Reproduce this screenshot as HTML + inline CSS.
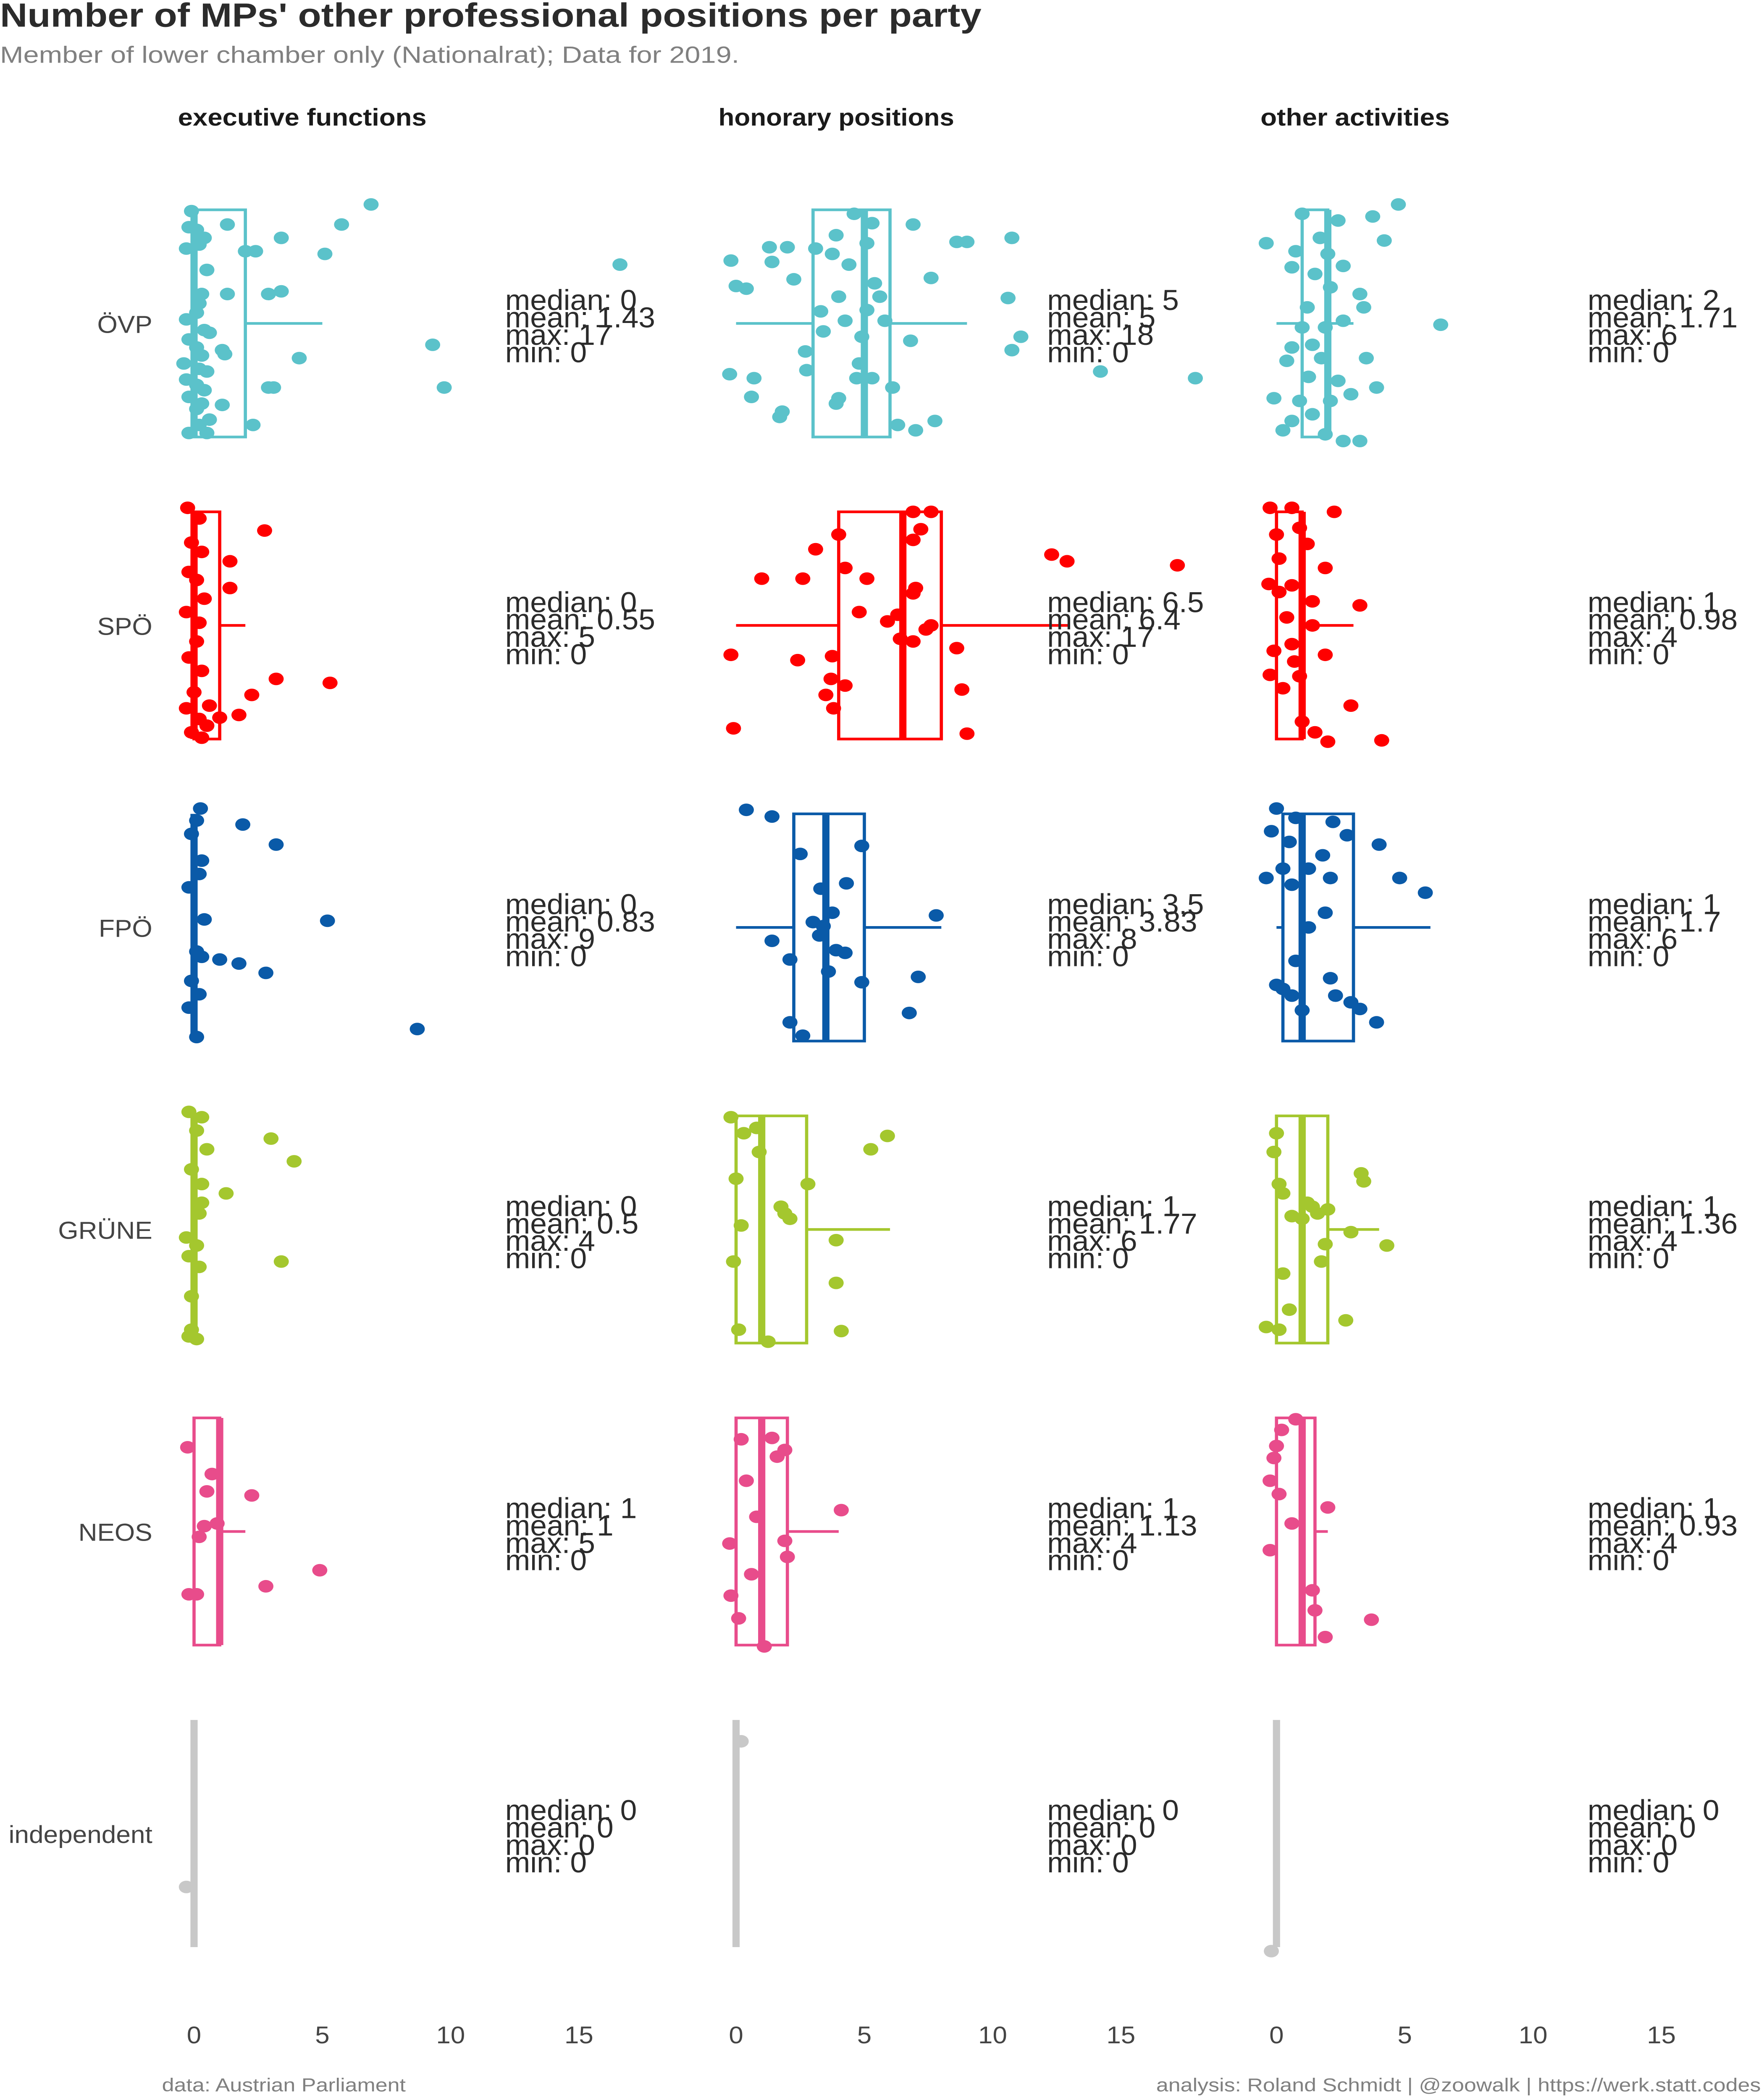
<!DOCTYPE html>
<html><head><meta charset="utf-8">
<style>
html,body{margin:0;padding:0;background:#fff;overflow:hidden;width:100%;height:100%;}
svg{display:block;position:fixed;left:0;top:0;width:100%;height:100%;}
text{font-family:"Liberation Sans Narrow","Liberation Sans",sans-serif;}
</style></head>
<body>
<svg id="chart" viewBox="0 0 1100 1571.4" preserveAspectRatio="none" xmlns="http://www.w3.org/2000/svg">
<rect x="0" y="0" width="1100" height="1571.4" fill="#fff"/>
<text x="0" y="20" font-size="25" font-weight="bold" fill="#2b2b2b" textLength="612" lengthAdjust="spacingAndGlyphs">Number of MPs' other professional positions per party</text>
<text x="0" y="47" font-size="17.5" fill="#808080" textLength="461" lengthAdjust="spacingAndGlyphs">Member of lower chamber only (Nationalrat); Data for 2019.</text>
<text x="111" y="94" font-size="18" font-weight="bold" fill="#1a1a1a" textLength="155" lengthAdjust="spacingAndGlyphs">executive functions</text>
<text x="448" y="94" font-size="18" font-weight="bold" fill="#1a1a1a" textLength="147" lengthAdjust="spacingAndGlyphs">honorary positions</text>
<text x="786" y="94" font-size="18" font-weight="bold" fill="#1a1a1a" textLength="118" lengthAdjust="spacingAndGlyphs">other activities</text>
<g id="plot"></g>
<text x="101" y="1565" font-size="14" fill="#808080" textLength="152" lengthAdjust="spacingAndGlyphs">data: Austrian Parliament</text>
<text x="1098" y="1565" font-size="14" fill="#808080" text-anchor="end" textLength="377" lengthAdjust="spacingAndGlyphs">analysis: Roland Schmidt | @zoowalk | https://werk.statt.codes</text>
</svg>
<script>
const parties = ["ÖVP","SPÖ","FPÖ","GRÜNE","NEOS","independent"];
const partyColors = ["#5bc2ca","#ff0000","#0a5aa8","#a4c72e","#e84c8b","#c8c8c8"];
const facets = ["executive functions","honorary positions","other activities"];
const xTicks = [0,5,10,15];
const boxExec = [[0,0,2,0,5],[0,0,1,0,2],[0,0,0,0,0],[0,0,0,0,0],[0,1,1,0,2],[0,0,0,0,0]];
const boxHon = [[3,5,6,0,9],[4,6.5,8,0,13],[2.25,3.5,5,0,8],[0,1,2.75,0,6],[0,1,2,0,4],[0,0,0,0,0]];
const boxOther = [[1,2,2,0,3],[0,1,1,0,3],[0.25,1,3,0,6],[0,1,2,0,4],[0,1,1.5,0,2],[0,0,0,0,0]];
const statsExec = [["0","1.43","17","0"],["0","0.55","5","0"],["0","0.83","9","0"],["0","0.5","4","0"],["1","1","5","0"],["0","0","0","0"]];
const statsHon = [["5","5","18","0"],["6.5","6.4","17","0"],["3.5","3.83","8","0"],["1","1.77","6","0"],["1","1.13","4","0"],["0","0","0","0"]];
const statsOther = [["2","1.71","6","0"],["1","0.98","4","0"],["1","1.7","6","0"],["1","1.36","4","0"],["1","0.93","4","0"],["0","0","0","0"]];
const ovpExec = [[6.9,-89],[5.75,-74],[5.1,-52],[3.4,-64],[2,-54],[2.4,-54],[3.4,-24],[2.9,-22],[4.1,26],[3.1,48],[2.9,48],[2.3,76],[9.3,16],[9.75,48],[16.6,-44],[1.3,-74],[1.3,-22],[1.1,20],[1.2,23],[1.1,61],
[-0.1,-84],[-0.2,-72],[0.1,-70],[0.4,-64],[0.2,-59],[-0.3,-56],[0.5,-40],[0.3,-22],[0.2,-15],[0.1,-8],[-0.3,-3],[0.4,5],[0.6,7],[-0.2,12],[0.1,18],[0.3,24],[-0.4,30],[0.2,34],[0.5,36],[-0.3,42],[0.1,46],[0.4,50],[-0.2,55],[0.3,60],[0.1,64],[0.6,72],[0.2,76],[-0.2,82],[0.5,82]];
const spoExec = [[-0.25,-88],[2.75,-71],[1.4,-48],[1.4,-28],[3.2,40],[5.3,43],[2.25,52],[1.75,67],[1,69],
[0.2,-80],[-0.1,-62],[0.3,-55],[-0.2,-40],[0.1,-34],[0.4,-20],[-0.3,-10],[0.2,-2],[0.1,12],[-0.2,24],[0.3,34],[0,50],[-0.3,62],[0.2,70],[0.5,75],[-0.1,80],[0.3,84],[0.6,60]];
const fpoExec = [[0.25,-89],[1.9,-77],[3.2,-62],[5.2,-5],[1.75,27],[2.8,34],[1,24],[8.7,76],
[0.1,-80],[-0.1,-70],[0.3,-50],[0.2,-40],[-0.2,-30],[0.4,-6],[0.1,18],[0.3,22],[-0.1,40],[0.2,50],[-0.2,60],[0.1,82]];
const grueneExec = [[3,-68],[3.9,-51],[1.25,-27],[3.4,24],
[-0.2,-88],[0.3,-84],[0.1,-74],[0.5,-60],[-0.1,-45],[0.3,-34],[0.2,-12],[-0.3,6],[0.1,12],[-0.2,20],[0.2,28],[0.3,-20],[-0.1,50],[-0.1,75],[0.1,82],[-0.2,80]];
const neosExec = [[-0.25,-63],[0.7,-43],[2.25,-27],[0.4,-4],[0.2,4],[2.8,41],[4.9,29],[0.1,47],[-0.2,47],[0.9,-6],[0.5,-30]];
const indepExec = [[-0.3,40]];
const ovpHon = [[8.6,-61],[9,-61],[10.75,-64],[10.6,-19],[11.1,10],[10.75,20],[14.2,36],[17.9,41],[6.9,-74],[7.6,-34],[-0.2,-47],[0,-28],[0.4,-26],[1.4,-46],[2.25,-33],[1.3,-57],[2,-57],[3.1,-56],[3.75,-52],[4,-20],[3.3,-9],[3.4,6],[2.7,21],[2.75,35],[1.8,66],[1.7,70],[0.7,41],[0.6,55],[-0.25,38],[3.9,60],[4,56],[5.1,-60],[5.4,-30],[5.6,-20],[5.1,-10],[5.8,-2],[4.9,10],[4.7,41],[5.3,41],[6.1,48],[6.3,76],[7,80],[7.75,73],[6.8,13],[4.4,-44],[4.6,-82],[3.9,-66],[5.3,-75],[4.25,-2],[4.8,30]];
const spoHon = [[-0.2,22],[-0.1,77],[1,-35],[2.6,-35],[3.1,-57],[4.25,-43],[3.75,23],[2.4,26],[3.7,40],[3.5,52],[3.8,62],[4,-68],[4.8,-10],[5.1,-35],[5.9,-3],[6.3,-8],[6.9,-24],[7,-28],[6.9,-85],[7.6,-85],[7.2,-72],[7.6,0],[6.9,12],[6.4,10],[7.4,3],[8.6,17],[8.8,48],[9,81],[12.3,-53],[12.9,-48],[17.2,-45],[4.25,45],[6.9,-64]];
const fpoHon = [[0.4,-88],[1.4,-83],[2.5,-55],[4.9,-61],[3.3,-29],[3.75,-11],[4.3,-33],[3.4,-1],[3.9,17],[4.25,19],[3.6,33],[2.1,24],[1.4,10],[2.1,71],[2.6,81],[4.9,41],[7.1,37],[7.8,-9],[6.75,64],[3.25,6],[3,-4]];
const grueneHon = [[-0.2,-84],[0.8,-76],[0.3,-72],[0,-38],[0.9,-58],[2.8,-34],[1.75,-17],[2.1,-8],[0.2,-3],[-0.1,24],[3.9,8],[3.9,40],[4.1,76],[0.1,75],[1.25,84],[5.25,-60],[5.9,-70],[1.9,-12]];
const neosHon = [[0.2,-69],[1.4,-70],[1.9,-61],[1.6,-56],[0.4,-38],[0.8,-11],[-0.25,9],[1.9,7],[2,19],[0.6,32],[-0.2,48],[0.1,65],[1.1,86],[4.1,-16]];
const indepHon = [[0.2,-69]];
const ovpOther = [[4.75,-89],[3.75,-80],[4.2,-62],[6.4,1],[-0.4,-60],[0.75,-54],[0.6,-42],[1.7,-64],[2.4,-77],[2.6,-43],[2.1,-27],[3.25,-22],[3.4,-12],[2.6,-2],[1.9,3],[1,3],[0.6,18],[0.4,28],[1.4,16],[1.75,26],[3.5,26],[2.4,43],[-0.1,56],[0.9,58],[0.6,73],[0.25,80],[1.4,68],[1.9,83],[2.6,88],[3.25,88],[2.9,53],[3.9,48],[1.2,-12],[1.5,-37],[1,-82],[2,-52],[1.25,40],[2.1,58]];
const spoOther = [[-0.25,-88],[0.6,-88],[2.25,-85],[0.9,-73],[0,-68],[1.2,-61],[0.1,-50],[1.9,-43],[-0.3,-31],[0.6,-30],[0.1,-25],[1.4,-18],[3.25,-15],[0.4,-6],[1.4,0],[0.6,14],[1.9,22],[-0.1,19],[0.7,27],[-0.25,37],[0.9,38],[0.25,47],[2.9,60],[1,72],[1.5,80],[2,87],[4.1,86]];
const fpoOther = [[0,-89],[0.75,-82],[-0.2,-72],[0.5,-64],[2.2,-79],[2.75,-69],[4,-62],[1.8,-54],[1.25,-44],[0.25,-44],[-0.4,-37],[0.6,-32],[2.1,-37],[4.8,-37],[5.8,-26],[1.9,-11],[1.25,0],[0.75,25],[0,43],[0.6,51],[2.1,38],[2.3,51],[2.9,56],[3.25,61],[3.9,71],[1,62],[0.25,46]];
const grueneOther = [[0,-72],[-0.1,-58],[0.1,-34],[0.25,-27],[1.2,-20],[1.4,-17],[1.6,-12],[1,-8],[2,-15],[3.3,-42],[3.4,-36],[2.9,2],[4.3,12],[1.9,11],[1.75,24],[0.25,33],[0.5,60],[-0.4,73],[0.1,75],[2.7,68],[0.6,-10]];
const neosOther = [[0.2,-76],[0.75,-84],[0,-64],[-0.1,-55],[-0.25,-38],[0.1,-28],[2,-18],[0.6,-6],[-0.25,14],[1.4,44],[1.5,59],[1.9,79],[3.7,66]];
const indepOther = [[-0.2,88]];

const boxes = [boxExec, boxHon, boxOther];
const stats = [statsExec, statsHon, statsOther];
const points = [[ovpExec,spoExec,fpoExec,grueneExec,neosExec,indepExec],[ovpHon,spoHon,fpoHon,grueneHon,neosHon,indepHon],[ovpOther,spoOther,fpoOther,grueneOther,neosOther,indepOther]];

const NS = "http://www.w3.org/2000/svg";
const plot = document.getElementById("plot");
const colOrigin = [121, 459, 796];
const unit = 16;
const rowCenter0 = 242, rowStep = 226, halfH = 85;
function xScale(c, v){ return colOrigin[c] + v*unit; }
function yScale(r){ return rowCenter0 + r*rowStep; }
function mk(tag, attrs, parent){ const e = document.createElementNS(NS, tag); for (const k in attrs) e.setAttribute(k, attrs[k]); (parent||plot).appendChild(e); return e; }
function squeeze(el, x, s){ el.setAttribute('transform', 'translate(' + x + ',0) scale(' + s + ',1) translate(' + (-x) + ',0)'); }

parties.forEach((p, r) => {
  const lbl = mk("text", {x:95, y:yScale(r)+7, "font-size":18.5, fill:"#444", "text-anchor":"end"});
  
  
  squeeze(lbl, 95, 0.88);
  lbl.textContent = p;
});

for (let c = 0; c < 3; c++) {
  xTicks.forEach(t => {
    const tk = mk("text", {x:xScale(c,t), y:1529, "font-size":18, fill:"#444", "text-anchor":"middle"});
    
    
    squeeze(tk, xScale(c,t), 0.9);
    tk.textContent = t;
  });
  for (let r = 0; r < parties.length; r++) {
    const col = partyColors[r];
    const cy = yScale(r);
    const g = mk("g", {});
    
    
    const b = boxes[c][r];
    const x1 = xScale(c,b[0]), xm = xScale(c,b[1]), x3 = xScale(c,b[2]);
    const wl = mk("line", {x1:xScale(c,b[3]), x2:x1, y1:cy, y2:cy, stroke:col, "stroke-width":2}, g);
    
    
    const wh = mk("line", {x1:x3, x2:xScale(c,b[4]), y1:cy, y2:cy, stroke:col, "stroke-width":2}, g);
    
    
    const bx = mk("rect", {x:x1, y:cy-halfH, width:Math.max(0,x3-x1), height:2*halfH, fill:"none", stroke:col, "stroke-width":2}, g);
    
    
    const md = mk("line", {x1:xm, x2:xm, y1:cy-halfH, y2:cy+halfH, stroke:col, "stroke-width":4.5}, g);
    
    
    points[c][r].forEach(pt => {
      const ci = mk("circle", {cx:xScale(c,pt[0]), cy:cy+pt[1], r:4.7, fill:col}, g);
      
      
    });
    const s = stats[c][r];
    const labels = ["median: "+s[0], "mean: "+s[1], "max: "+s[2], "min: "+s[3]];
    labels.forEach((L, i) => {
      const tx = xScale(c,12) + 2;
      const t = mk("text", {x:tx, y:cy-10+i*13, "font-size":21.5, fill:"#2b2b2b"}, g);
      
      
      squeeze(t, tx, 0.87);
      t.textContent = L;
    });
  }
}
</script>
</body></html>
